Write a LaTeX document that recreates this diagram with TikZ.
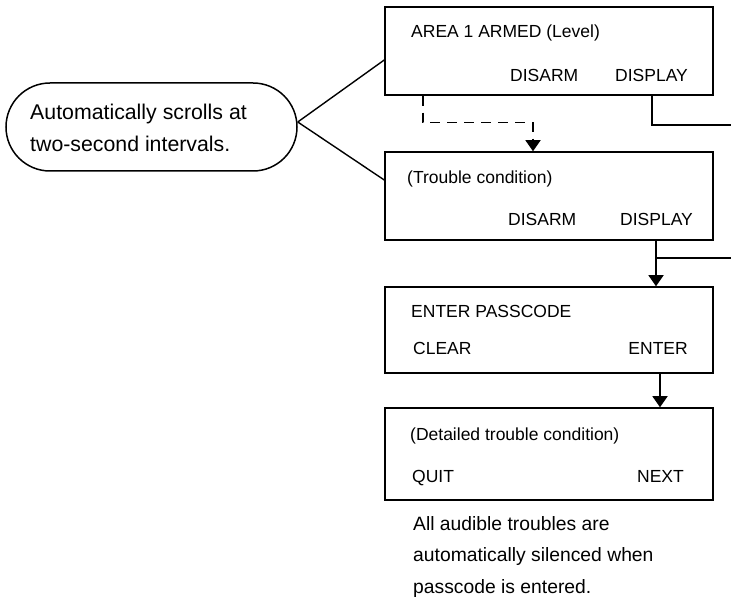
\documentclass[tikz,border=0pt]{standalone}
\usepackage{fontspec}
\setmainfont{Liberation Sans}
\usetikzlibrary{arrows.meta}

\tikzset{
  screen/.style={draw, line width=1.5pt, minimum width=328pt, inner sep=0pt},
  lbl/.style={anchor=base west, inner sep=0pt, font=\fontsize{17.5}{20}\selectfont},
  rlbl/.style={lbl, anchor=base east},
  wire/.style={line width=1.4pt},
  tip/.style={wire, -{Triangle[width=15pt,length=11pt]}},
}

\begin{document}
\begin{tikzpicture}[x=1pt, y=-1pt]
  \useasboundingbox (0,0) rectangle (731,601);
  % note bubble
  \node[draw, line width=1.5pt, rounded corners=44pt, minimum width=291pt, minimum height=88pt] (note) at (151.5,127) {};
  \node[anchor=base west, inner sep=0pt, align=left, font=\fontsize{21.3}{32}\selectfont] (notetxt) at (30,152)
    {Automatically scrolls at\\two-second intervals.};
  % screens
  \node[screen, minimum height=88pt] (area) at (549,51) {};
  \node[screen, minimum height=88pt] (trouble) at (549,196) {};
  \node[screen, minimum height=86pt] (passcode) at (549,330) {};
  \node[screen, minimum height=92pt] (detail) at (549,454) {};
  \node[lbl] (areatxt) at (411,38) {AREA 1 ARMED (Level)};
  \node[lbl] (areadis) at (510,82) {DISARM};
  \node[lbl] (areadsp) at (615,82) {DISPLAY};
  \node[lbl] (troubletxt) at (407,184) {(Trouble condition)};
  \node[lbl] (troubledis) at (508,226) {DISARM};
  \node[lbl] (troubledsp) at (620,226) {DISPLAY};
  \node[lbl] (passtxt) at (411,318) {ENTER PASSCODE};
  \node[lbl] (passclr) at (413,355) {CLEAR};
  \node[rlbl] (passent) at (688,355) {ENTER};
  \node[lbl] (detailtxt) at (410,440) {(Detailed trouble condition)};
  \node[lbl] (detailquit) at (412,482) {QUIT};
  \node[rlbl] (detailnext) at (684,482) {NEXT};
  \node[anchor=base west, inner sep=0pt, align=left, font=\fontsize{19.3}{31.5}\selectfont] (silent) at (413,593)
    {All audible troubles are\\automatically silenced when\\passcode is entered.};
  \coordinate (out1) at (731,125);
  \coordinate (out2) at (731,258);
  % connectors
  \draw[wire] ([yshift=5pt]note.east) -- ([yshift=-9pt]area.west);
  \draw[wire] ([yshift=5pt]note.east) -- ([yshift=16pt]trouble.west);
  \draw[tip, dash pattern=on 10pt off 7pt] ([xshift=-126pt]area.south) -- ++(0,27) -| ([xshift=-16pt]trouble.north);
  \draw[wire] ([xshift=103pt]area.south) |- (out1);
  \draw[tip] ([xshift=107pt]trouble.south) -- ([xshift=107pt]passcode.north);
  \draw[wire] (out2) -| ([xshift=107pt]trouble.south);
  \draw[tip] ([xshift=111pt]passcode.south) -- ([xshift=111pt]detail.north);
\end{tikzpicture}
\end{document}
